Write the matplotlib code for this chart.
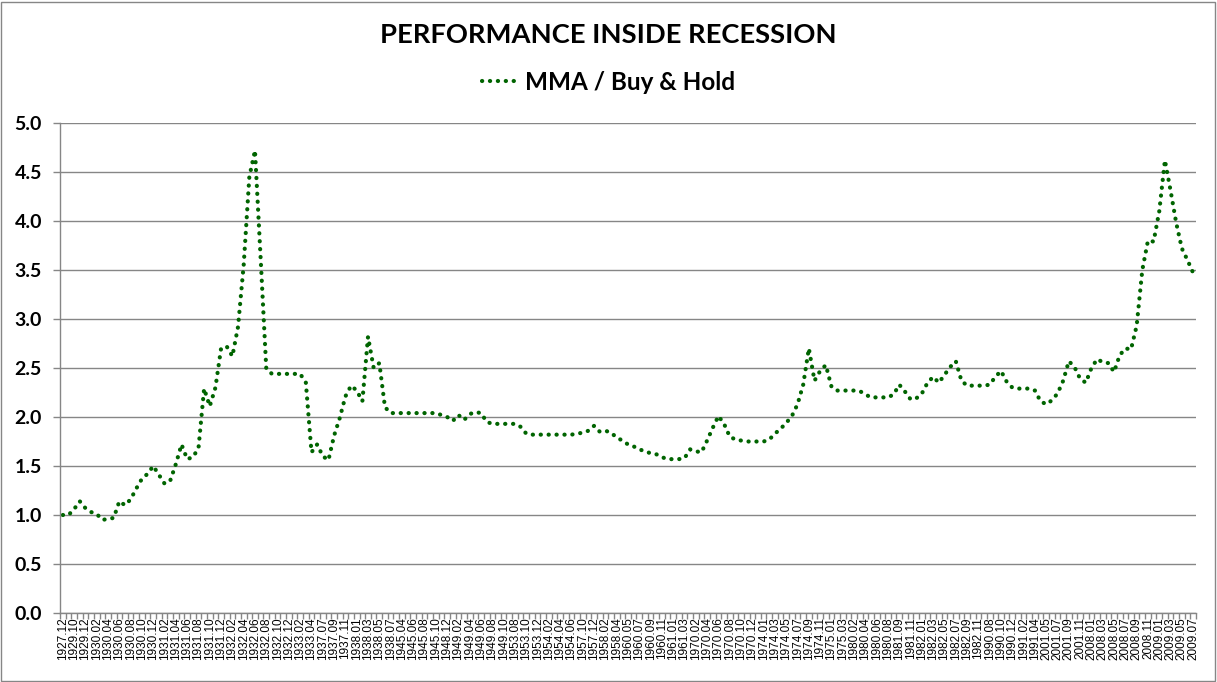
import matplotlib
matplotlib.use('Agg')
import matplotlib.pyplot as plt
from matplotlib.patches import Rectangle
from matplotlib.ticker import FixedLocator, MultipleLocator, FormatStrFormatter

# months inside each recession (month after peak .. month after trough)
periods = [((1927, 12), (1927, 12)), ((1929, 9), (1933, 4)), ((1937, 6), (1938, 7)),
           ((1945, 3), (1945, 11)), ((1948, 12), (1949, 11)), ((1953, 8), (1954, 6)),
           ((1957, 9), (1958, 5)), ((1960, 5), (1961, 3)), ((1970, 1), (1970, 12)),
           ((1973, 12), (1975, 4)), ((1980, 2), (1980, 8)), ((1981, 8), (1982, 12)),
           ((1990, 8), (1991, 4)), ((2001, 4), (2001, 12)), ((2008, 1), (2009, 7))]

# MMA / Buy & Hold ratio
r1927 = [1.00]
r1929 = [1.00, 1.06, 1.14, 1.07, 1.03, 1.01, 0.95, 0.96, 0.97, 1.14, 1.10, 1.16,
         1.27, 1.37, 1.42, 1.50, 1.41, 1.32, 1.35, 1.52, 1.72, 1.57, 1.59, 1.68,
         2.29, 2.11, 2.30, 2.70, 2.72, 2.62, 2.92, 3.55, 4.45, 4.72, 3.62, 2.49,
         2.44, 2.44, 2.44, 2.44, 2.44, 2.44, 2.35, 1.64]
r1937 = [1.72, 1.60, 1.56, 1.81, 1.99, 2.21, 2.32, 2.27, 2.16, 2.82, 2.50, 2.55, 2.10, 2.04]
r1945 = [2.04, 2.04, 2.04, 2.04, 2.04, 2.04, 2.04, 2.04, 2.02]
r1948 = [2.00, 1.96, 2.02, 1.97, 2.03, 2.05, 2.04, 1.95, 1.93, 1.93, 1.93, 1.93]
r1953 = [1.93, 1.90, 1.83, 1.82, 1.82, 1.82, 1.82, 1.82, 1.82, 1.82, 1.82]
r1957 = [1.83, 1.84, 1.86, 1.91, 1.85, 1.86, 1.84, 1.79, 1.76]
r1960 = [1.72, 1.70, 1.67, 1.65, 1.63, 1.62, 1.59, 1.57, 1.57, 1.57, 1.58]
r1970 = [1.67, 1.65, 1.64, 1.76, 1.89, 2.01, 1.93, 1.80, 1.77, 1.76, 1.75, 1.75]
r1973 = [1.75, 1.75, 1.77, 1.83, 1.88, 1.94, 2.01, 2.13, 2.33, 2.70, 2.37, 2.47,
         2.53, 2.31, 2.27, 2.27, 2.27]
r1980 = [2.27, 2.265, 2.23, 2.20, 2.20, 2.20, 2.20]
r1981 = [2.23, 2.33, 2.26, 2.18, 2.19, 2.24, 2.35, 2.41, 2.35, 2.43, 2.51, 2.57,
         2.37, 2.32, 2.32, 2.32, 2.32]
r1990 = [2.33, 2.41, 2.47, 2.36, 2.30, 2.29, 2.29, 2.29, 2.27]
r2001 = [2.16, 2.13, 2.17, 2.24, 2.37, 2.57, 2.51, 2.39, 2.35]
r2008 = [2.50, 2.59, 2.56, 2.55, 2.46, 2.63, 2.70, 2.69, 2.93, 3.50, 3.80, 3.79,
         4.10, 4.62, 4.31, 3.98, 3.72, 3.60, 3.47]

ratio = (r1927 + r1929 + r1937 + r1945 + r1948 + r1953 + r1957 + r1960 + r1970
         + r1973 + r1980 + r1981 + r1990 + r2001 + r2008)


def month_labels(periods):
    out = []
    for (y, m), end in periods:
        while (y, m) <= end:
            out.append('{}.{:02d}'.format(y, m))
            m += 1
            if m > 12:
                y, m = y + 1, 1
    return out


labels = month_labels(periods)
x = list(range(len(labels)))

green = '#006400'
grey = '#868686'

fig = plt.figure(figsize=(12.17, 6.82), dpi=100)
ax = fig.add_axes([60 / 1217, 1 - 613 / 682, 1136 / 1217, 490 / 682])

line, = ax.plot(x, ratio, color=green, lw=3.0, linestyle=(0, (0.05, 1.85)),
                dash_capstyle='round', label='MMA / Buy & Hold')

ax.set_xlim(-0.5, len(labels) - 0.5)
ax.set_ylim(0, 5)
ax.yaxis.set_major_locator(MultipleLocator(0.5))
ax.yaxis.set_major_formatter(FormatStrFormatter('%.1f'))
ax.yaxis.grid(True, color=grey, lw=1)
ax.set_axisbelow(True)

# category ticks between months, labels on every other month
ax.xaxis.set_minor_locator(FixedLocator([i - 0.5 for i in range(len(labels) + 1)]))
ax.set_xticks(x[::2])
ax.set_xticklabels(labels[::2], rotation=90, fontsize=8.5, family='Liberation Sans')
ax.tick_params(axis='x', which='major', length=0, pad=3)
ax.tick_params(axis='x', which='minor', length=4, color=grey, width=1)
ax.tick_params(axis='y', length=5, color=grey, width=1, pad=8)
for lab in ax.get_yticklabels():
    lab.set_fontfamily('Lato')
    lab.set_fontweight('bold')
    lab.set_fontsize(14)

for side in ['top', 'right']:
    ax.spines[side].set_visible(False)
for side in ['left', 'bottom']:
    ax.spines[side].set_color(grey)
    ax.spines[side].set_linewidth(1)

fig.text(0.5, 1 - 35 / 682, 'PERFORMANCE INSIDE RECESSION', ha='center', va='center',
         fontsize=19.7, fontweight='bold', family='Lato')
fig.legend(handles=[line], loc='center', bbox_to_anchor=(0.5, 1 - 82 / 682),
           frameon=False, handlelength=1.45, handletextpad=0.35,
           prop={'family': 'Lato', 'weight': 'bold', 'size': 17.5})

fig.patches.append(Rectangle((0.001, 0.002), 0.997, 0.995, transform=fig.transFigure,
                             fill=False, edgecolor=grey, lw=1))

fig.savefig('out.png', dpi=100)
